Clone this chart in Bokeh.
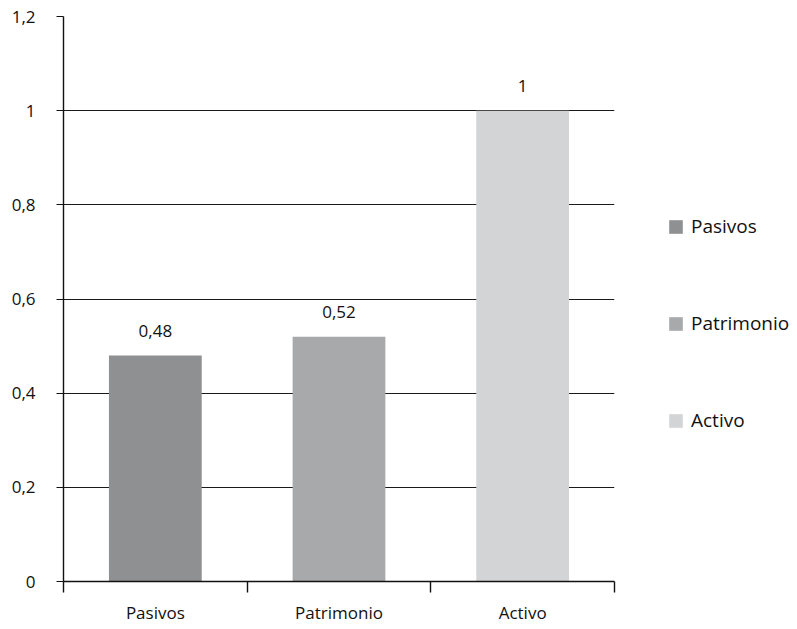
import numpy as np
from bokeh.plotting import figure
from bokeh.models import (ColumnDataSource, Range1d, FixedTicker, Legend, LegendItem)
from bokeh.core.properties import value
from bokeh.embed import file_html
from bokeh.resources import INLINE

categories = ["Pasivos", "Patrimonio", "Activo"]
values = [0.48, 0.52, 1.0]
colors = ["#8f9092", "#a8a9ab", "#d3d4d6"]
value_labels = ["0,48", "0,52", "1"]
y_ticks = [0, 0.2, 0.4, 0.6, 0.8, 1.0, 1.2]
y_tick_labels = ["0", "0,2", "0,4", "0,6", "0,8", "1", "1,2"]

FONT = "Open Sans"
INK = "#111111"
centers = [i + 0.5 for i in range(len(categories))]
bounds = list(range(len(categories) + 1))

src = ColumnDataSource(dict(x=centers, top=values, color=colors, cat=categories, lab=value_labels))

p = figure(frame_width=551, frame_height=565, output_backend="svg", toolbar_location=None,
           x_range=Range1d(0, len(categories)), y_range=Range1d(0, 1.2),
           min_border_left=63, min_border_right=183, min_border_top=16, min_border_bottom=48)
p.outline_line_color = None
p.background_fill_color = "white"
p.border_fill_color = "white"

r = p.vbar(x="x", top="top", width=0.505, bottom=0, fill_color="color", line_color=None, source=src)
p.text(x="x", y="top", text="lab", source=src, text_align="center", text_baseline="alphabetic",
       y_offset=-25, text_font=value(FONT), text_font_size="17px", text_color=INK)

# y axis
yax = p.yaxis[0]
yax.ticker = FixedTicker(ticks=y_ticks)
yax.major_label_overrides = dict(zip(y_ticks, y_tick_labels))
yax.major_tick_in = 0
yax.major_tick_out = 7
yax.minor_tick_line_color = None
yax.axis_line_color = INK
yax.axis_line_width = 1.4
yax.major_tick_line_color = INK
yax.major_label_standoff = 21
yax.major_label_text_font = FONT
yax.major_label_text_font_size = "17px"
yax.major_label_text_color = INK

# x axis
xax = p.xaxis[0]
xax.ticker = FixedTicker(ticks=centers, minor_ticks=bounds)
xax.major_label_overrides = dict(zip(centers, categories))
xax.major_tick_line_color = None
xax.major_tick_in = 0
xax.major_tick_out = 0
xax.minor_tick_in = 0
xax.minor_tick_out = 11
xax.minor_tick_line_color = INK
xax.minor_tick_line_width = 1.4
xax.axis_line_color = INK
xax.axis_line_width = 1.4
xax.major_label_standoff = 8
xax.major_label_text_font = FONT
xax.major_label_text_font_size = "17px"
xax.major_label_text_color = INK

p.xgrid.grid_line_color = None
p.ygrid.ticker = FixedTicker(ticks=y_ticks)
p.ygrid.grid_line_color = "#1a1a1a"
p.ygrid.grid_line_width = 1

items = [LegendItem(label=c, renderers=[r], index=i) for i, c in enumerate(categories)]
legend = Legend(items=items, location=(53, 148), orientation="vertical",
                glyph_width=17, glyph_height=17, label_standoff=7, spacing=71,
                padding=0, margin=0, border_line_color=None, background_fill_alpha=0,
                label_text_font=FONT, label_text_font_size="19px", label_text_color=INK,
                label_height=20)
p.add_layout(legend, "right")

open("out.html", "w").write(file_html(p, INLINE))
